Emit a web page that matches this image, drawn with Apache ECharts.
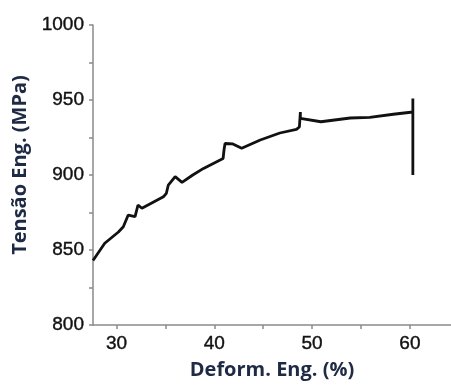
<!DOCTYPE html>
<html>
<head>
<meta charset="utf-8">
<script src="https://cdn.jsdelivr.net/npm/echarts@6/dist/echarts.min.js"></script>
<style>
  html, body { margin: 0; padding: 0; background: #fff; }
  #chart { width: 451px; height: 385px; }
</style>
</head>
<body>
<div id="chart"></div>
<script>
// deformação (%) e tensão (MPa)
const strain = [27.6, 28.8, 30.2, 30.7, 31.2, 31.9, 32.2, 32.6, 34.8, 35.1, 35.3, 36.0, 36.7, 37.8, 38.9, 40.9, 41.0, 41.1, 41.9, 42.8, 44.7, 46.7, 48.4, 48.7, 48.8, 48.8, 50.9, 53.9, 55.9, 58.3, 60.3, 60.3, 60.3]
const stress = [843, 854.5, 862, 865.5, 873.3, 872.2, 880, 877.8, 885.5, 887.8, 893.3, 898.9, 895.1, 900, 904.4, 911, 917, 921, 920.7, 917.8, 923.3, 928, 930.4, 932, 942, 937.8, 935.5, 938, 938.4, 940.5, 942, 951, 900]
const xLabels = [30, 40, 50, 60]
const xTicks = [30, 35, 40, 45, 50, 55, 60]
const yLabels = [800, 850, 900, 950, 1000]
const yTicks = [800, 825, 850, 875, 900, 925, 950, 975, 1000]

const axisGray = '#8a8a8a'
const nameColor = '#1f2a44'
// rótulos dos ticks um pouco mais grossos, como no original
const tickFont = { fontFamily: 'Liberation Sans', fontSize: 19, color: '#111', textBorderColor: '#111', textBorderWidth: 0.4 }

let chart = echarts.init(document.getElementById('chart'))
let options = {
  animation: false,
  grid: { left: 93, right: 0, top: 25, bottom: 60 },
  xAxis: {
    type: 'value',
    min: 27.6,
    max: 64.2,
    name: 'Deform. Eng. (%)',
    nameLocation: 'middle',
    nameGap: 35,
    nameTextStyle: { fontFamily: 'Open Sans', fontWeight: 'bold', fontSize: 20, color: nameColor },
    axisLine: { lineStyle: { color: axisGray, width: 1.5 } },
    axisTick: { show: true, length: 4, customValues: xTicks, lineStyle: { color: axisGray, width: 1.5 } },
    axisLabel: Object.assign({ customValues: xLabels, margin: 9, formatter: v => String(v) }, tickFont),
    splitLine: { show: false }
  },
  yAxis: {
    type: 'value',
    min: 800,
    max: 1000,
    name: 'Tensão Eng. (MPa)',
    nameLocation: 'middle',
    nameGap: 56,
    nameTextStyle: { fontFamily: 'Open Sans', fontWeight: 'bold', fontSize: 20, color: nameColor, padding: [0, 0, 0, 20] },
    axisLine: { show: true, lineStyle: { color: axisGray, width: 1.5 } },
    axisTick: { show: true, length: 4, customValues: yTicks, lineStyle: { color: axisGray, width: 1.5 } },
    axisLabel: Object.assign({ customValues: yLabels, margin: 9, formatter: v => String(v) }, tickFont),
    splitLine: { show: false }
  },
  series: [{
    type: 'line',
    data: strain.map((x, i) => [x, stress[i]]),
    showSymbol: false,
    lineStyle: { color: '#111', width: 2.8 },
    clip: false
  }]
}
chart.setOption(options)
</script>
</body>
</html>
